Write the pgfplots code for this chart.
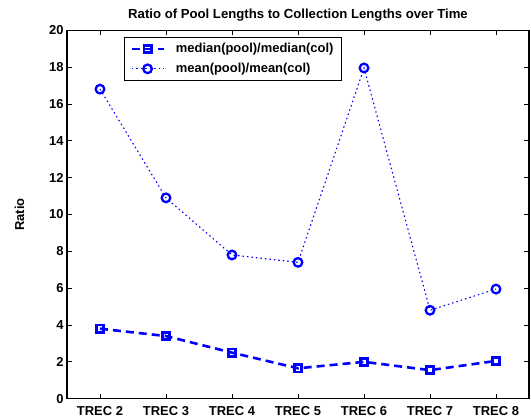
\documentclass[border=0pt]{standalone}
\usepackage{pgfplots}
\pgfplotsset{compat=1.18}
\usepackage{fontspec}
\setmainfont{Liberation Sans}
\definecolor{mblue}{RGB}{0,0,255}
\begin{document}
\begin{tikzpicture}[x=1bp,y=1bp]
\useasboundingbox (0,0) rectangle (531,419);
\begin{axis}[
  at={(67bp,20.3bp)}, anchor=south west,
  scale only axis, width=462bp, height=368.5bp,
  xmin=1.5, xmax=8.5, ymin=0, ymax=20,
  xtick={2,3,4,5,6,7,8},
  xticklabels={\textbf{TREC 2},\textbf{TREC 3},\textbf{TREC 4},\textbf{TREC 5},\textbf{TREC 6},\textbf{TREC 7},\textbf{TREC 8}},
  ytick={0,2,4,6,8,10,12,14,16,18,20},
  yticklabel={\textbf{\pgfmathprintnumber{\tick}}},
  tick align=inside, major tick length=5bp,
  axis line style={line width=1.2bp},
  tick style={line width=0.8bp,black},
  tick label style={font=\bfseries\fontsize{13}{15}\selectfont},
  /pgf/number format/assume math mode=true,
  xticklabel style={yshift=-4bp},
  title={\bfseries Ratio of Pool Lengths to Collection Lengths over Time},
  title style={font=\fontsize{13.2}{15}\selectfont, at={(axis description cs:0.5,1)}, anchor=south, yshift=-1bp},
  ylabel={\bfseries Ratio},
  ylabel style={font=\fontsize{13}{15}\selectfont, at={(axis description cs:-0.1028,0.5)}, anchor=center},
  legend style={at={(0.123,0.9815)}, anchor=north west, draw=black, line width=1bp,
     font=\bfseries\fontsize{13}{15}\selectfont, row sep=5bp, inner xsep=6bp, inner ysep=4bp,
     /tikz/every odd column/.append style={column sep=9bp}},
  legend cell align=left,
  legend image code/.code={%
    \draw[mark repeat=2,mark phase=2] plot coordinates {(0bp,0bp) (16bp,0bp) (32bp,0bp)};},
]
\addplot[mblue, line width=2.6bp, dash pattern=on 8bp off 5bp,
  mark=square, mark size=3.6bp, mark options={solid, line width=2.6bp}]
  coordinates {(2,3.8) (3,3.4) (4,2.5) (5,1.65) (6,2.0) (7,1.55) (8,2.05)};
\addlegendentry{median(pool)/median(col)}
\addplot[mblue, line width=1.1bp, dash pattern=on 1.5bp off 3bp,
  mark=o, mark size=4.3bp, mark options={solid, line width=2.3bp}]
  coordinates {(2,16.8) (3,10.9) (4,7.8) (5,7.4) (6,17.95) (7,4.8) (8,5.95)};
\addlegendentry{mean(pool)/mean(col)}
\end{axis}
\end{tikzpicture}
\end{document}
